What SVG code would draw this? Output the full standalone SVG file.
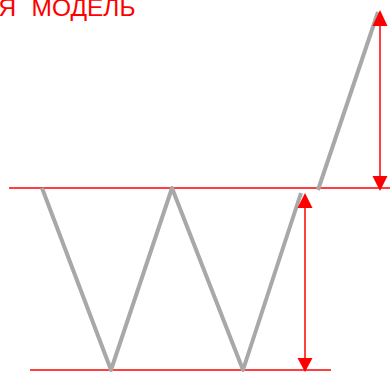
<svg xmlns="http://www.w3.org/2000/svg" width="390" height="372" viewBox="0 0 390 372">
<style>
.title{font-family:"Liberation Sans",Arial,sans-serif;font-size:24.5px;fill:#ff0000}
.lvl{stroke:#ff0000;stroke-width:1.5;fill:none}
.price{stroke:#a8a8a8;stroke-width:4;fill:none;stroke-linejoin:round}
.arr{stroke:#ff0000;stroke-width:1.5;fill:none}
.head{fill:#ff0000}
</style>
<g id="title"><text class="title" y="15.5"><tspan x="-1.5">Я</tspan> <tspan x="31.5">МОДЕЛЬ</tspan></text></g>
<g id="levels">
<line class="lvl" x1="9" y1="188" x2="390" y2="188"/>
<line class="lvl" x1="30" y1="370" x2="331" y2="370"/>
</g>
<g id="price">
<polyline class="price" points="42,188 111,370 172,188 243,370 301,193"/>
<line class="price" x1="318" y1="190" x2="378" y2="12"/>
</g>
<g id="connectors">
<line class="arr" x1="380" y1="24" x2="380" y2="176"/>
<polygon class="head" points="380,10 372.5,26 387.5,26"/>
<polygon class="head" points="380,191 372.5,176 387.5,176"/>
<line class="arr" x1="305" y1="206" x2="305" y2="358"/>
<polygon class="head" points="305,193 297.5,208 312.5,208"/>
<polygon class="head" points="305,372 297.5,358 312.5,358"/>
</g>
</svg>
